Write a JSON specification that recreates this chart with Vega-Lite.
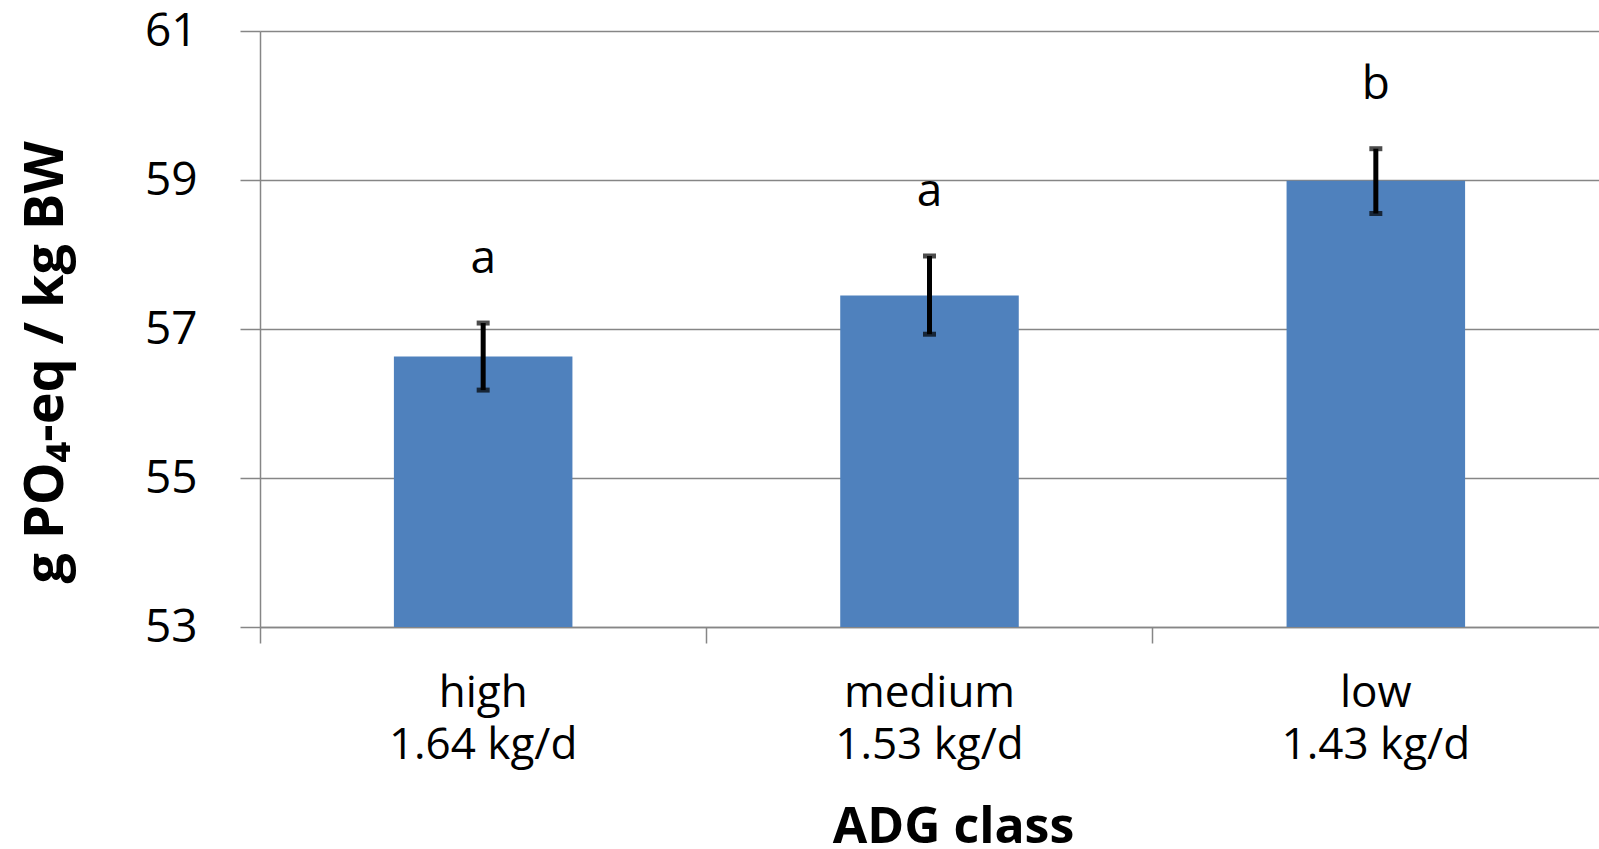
{
  "$schema": "https://vega.github.io/schema/vega-lite/v6.json",
  "width": 1339,
  "height": 596,
  "autosize": {"type": "none"},
  "padding": {"left": 260, "top": 31, "right": 0, "bottom": 222},
  "background": "white",
  "config": {"font": "Open Sans", "view": {"stroke": null}},
  "data": {
    "values": [
      {"class": "high\n1.64 kg/d", "mean": 56.63, "lo": 56.18, "hi": 57.08, "sig": "a"},
      {"class": "medium\n1.53 kg/d", "mean": 57.45, "lo": 56.93, "hi": 57.98, "sig": "a"},
      {"class": "low\n1.43 kg/d", "mean": 58.99, "lo": 58.55, "hi": 59.42, "sig": "b"}
    ]
  },
  "encoding": {
    "x": {
      "field": "class",
      "type": "nominal",
      "sort": null,
      "scale": {"paddingInner": 0.6, "paddingOuter": 0.3},
      "axis": {
        "title": "ADG class",
        "labelAngle": 0,
        "labelExpr": "split(datum.label, '\\n')",
        "labelFontSize": 44,
        "labelLineHeight": 52,
        "labelLimit": 0,
        "labelColor": "black",
        "labelPadding": 28,
        "bandPosition": -0.75,
        "ticks": true,
        "tickSize": 16,
        "tickColor": "#868686",
        "tickWidth": 1.5,
        "domain": true,
        "domainColor": "#868686",
        "domainWidth": 1.5,
        "grid": false,
        "titleFontSize": 50,
        "titleFontWeight": "bold",
        "titleColor": "black",
        "titleX": 693,
        "titleY": 215,
        "titleBaseline": "alphabetic",
        "titleAlign": "center"
      }
    }
  },
  "layer": [
    {
      "mark": {"type": "bar", "color": "#4F81BD"},
      "encoding": {
        "y": {
          "field": "mean",
          "type": "quantitative",
          "scale": {"domain": [53, 61], "zero": false, "nice": false},
          "axis": {
            "values": [53, 55, 57, 59, 61],
            "format": "d",
            "grid": true,
            "gridColor": "#868686",
            "gridWidth": 1.5,
            "domain": true,
            "domainColor": "#868686",
            "domainWidth": 1.5,
            "ticks": true,
            "tickSize": 20,
            "tickColor": "#868686",
            "tickWidth": 1.5,
            "labelFontSize": 46,
            "labelPadding": 43,
            "labelColor": "black",
            "title": "g PO₄-eq / kg BW",
            "titleFontSize": 54,
            "titleFontWeight": "bold",
            "titleColor": "black",
            "titleX": -214,
            "titleY": 331,
            "titleAngle": -90,
            "titleAlign": "center",
            "titleBaseline": "middle"
          }
        },
        "y2": {"datum": 53}
      }
    },
    {
      "mark": {"type": "rule", "color": "black", "strokeWidth": 5},
      "encoding": {
        "y": {"field": "lo", "type": "quantitative"},
        "y2": {"field": "hi"}
      }
    },
    {
      "mark": {"type": "tick", "color": "black", "thickness": 5, "size": 13, "orient": "horizontal"},
      "encoding": {"y": {"field": "hi", "type": "quantitative"}}
    },
    {
      "mark": {"type": "tick", "color": "black", "thickness": 5, "size": 13, "orient": "horizontal"},
      "encoding": {"y": {"field": "lo", "type": "quantitative"}}
    },
    {
      "mark": {"type": "text", "fontSize": 46, "baseline": "alphabetic", "dy": -50, "color": "black"},
      "encoding": {
        "y": {"field": "hi", "type": "quantitative"},
        "text": {"field": "sig"}
      }
    }
  ]
}
